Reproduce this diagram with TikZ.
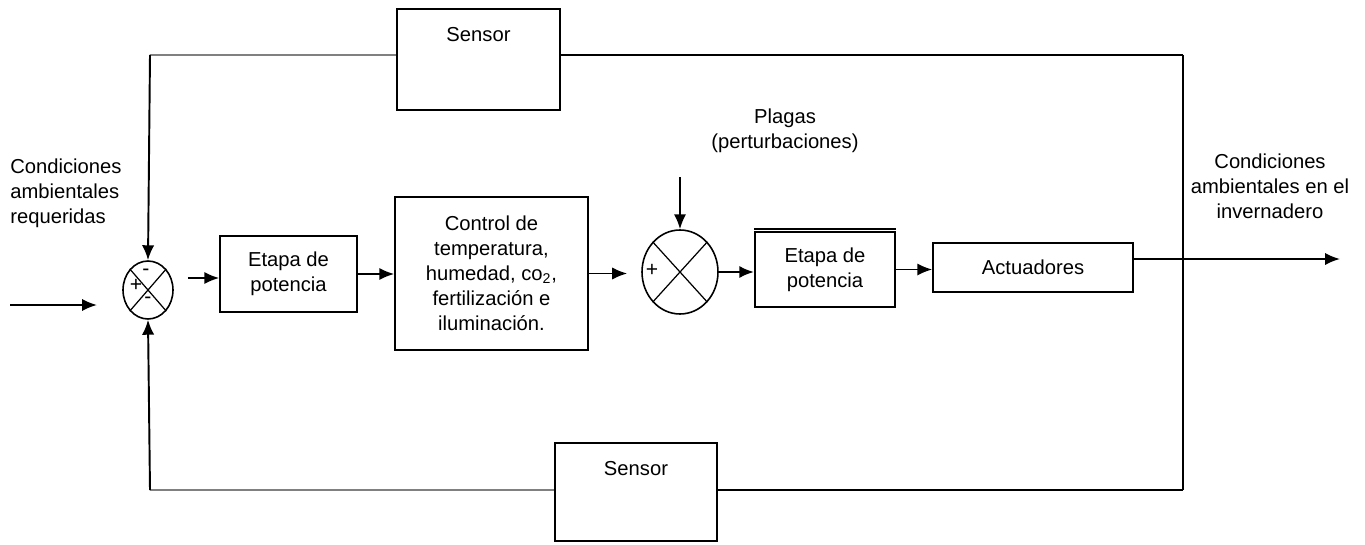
\documentclass[tikz,border=0pt]{standalone}
\usepackage{fontspec}
\setmainfont{Liberation Sans}
\usepackage{tikz}
\usetikzlibrary{positioning,shapes.geometric,arrows.meta,calc}

\tikzset{
  blk/.style={draw, line width=0.9pt, rectangle, inner sep=0pt},
  sumnode/.style={draw, line width=0.9pt, ellipse, inner sep=0pt},
  txt/.style={font=\fontsize{11.5}{14.2}\selectfont, align=center, inner sep=0pt},
  sgn/.style={font=\fontsize{12}{14}\selectfont, inner sep=0pt},
  wire/.style={line width=1.1pt},
  arr/.style={wire, -{Latex[length=8.5pt,width=7pt]}},
  greywire/.style={line width=1.1pt, draw=gray}
}

\begin{document}
\begin{tikzpicture}[x=0.02cm, y=-0.02cm]

\useasboundingbox (0,0) rectangle (1365,544);

% Blocks
\node[blk, minimum width=3.26cm, minimum height=2.02cm] (sensorTop) at (478.5, 59.5) {};
\node[txt, below=0.38cm of sensorTop.north] (sensorTopTxt) {Sensor};

\node[blk, minimum width=3.24cm, minimum height=1.96cm] (sensorBot) at (636, 492) {};
\node[txt, below=0.38cm of sensorBot.north] (sensorBotTxt) {Sensor};

\node[blk, txt, minimum width=2.74cm, minimum height=1.52cm] (etapa1) at (288.5, 274) {Etapa de\\potencia};
\node[blk, txt, minimum width=3.86cm, minimum height=3.06cm] (control) at (491.5, 273.5)
  {Control de\\temperatura,\\humedad, co\textsubscript{2},\\fertilización e\\iluminación.};
\node[blk, txt, minimum width=2.8cm, minimum height=1.5cm] (etapa2) at (825, 269.5) {Etapa de\\potencia};
\node[blk, txt, minimum width=4.0cm, minimum height=0.98cm] (actuadores) at (1033, 267.5) {Actuadores};

% double top edge
\draw[line width=0.7pt] ($(etapa2.north west)+(0,-2.2)$) -- ($(etapa2.north east)+(0,-2.2)$);

% Summing points
\node[sumnode, minimum width=1.0cm, minimum height=1.16cm] (sum1) at (148, 290) {};
\draw[line width=0.7pt] (sum1.north west) -- (sum1.south east);
\draw[line width=0.7pt] (sum1.north east) -- (sum1.south west);
\node[sgn] (s1top) at (146, 272) {-};
\node[sgn] (s1left) at (136, 285) {+};
\node[sgn] (s1bot) at (148, 300) {-};

\node[sumnode, minimum width=1.52cm, minimum height=1.68cm] (sum2) at (680, 272) {};
\draw[line width=0.7pt] (sum2.north west) -- (sum2.south east);
\draw[line width=0.7pt] (sum2.north east) -- (sum2.south west);
\node[sgn] (s2left) at (652, 270) {+};

% Texts
\node[txt, align=left, anchor=west] (inTxt) at (10, 193) {Condiciones\\ambientales\\requeridas};
\node[txt] (plagas) at (785, 131) {Plagas\\(perturbaciones)};
\node[txt] (outTxt) at (1270, 186) {Condiciones\\ambientales en el\\invernadero};

% Coordinates
\coordinate (inStart) at (10, 305);
\coordinate (inEnd) at (97, 305);
\coordinate (plIn) at (680, 177);
\coordinate (jR) at (1183, 259);
\coordinate (jT) at (1183, 55);
\coordinate (jB) at (1183, 490);
\coordinate (out) at (1340, 259);
\coordinate (fbTL) at (150, 55);
\coordinate (fbBL) at (150, 490);

% Forward path
\draw[arr] (inStart) -- (inEnd);
\draw[arr] ($(sum1.east |- etapa1.west)+(14,4)$) -- ($(etapa1.west)+(0,4)$);
\draw[arr] (etapa1.east) -- (etapa1.east -| control.west);
\draw[arr, shorten >=8] (control.east) -- (control.east -| sum2.west);
\draw[arr] (plIn) -- (sum2.north);
\draw[arr, line width=1.5pt] (sum2.east) -- (sum2.east -| etapa2.west);
\draw[arr] (etapa2.east) -- (etapa2.east -| actuadores.west);
\draw[arr] (actuadores.east |- out) -- (out);

% Feedback paths
\draw[wire] (jT) -- (jB);
\draw[wire] (jT) -- (jT -| sensorTop.east);
\draw[greywire] (sensorTop.west |- jT) -- (fbTL);
\draw[arr] (fbTL) -- (sum1.north);
\draw[wire] (jB) -- (jB -| sensorBot.east);
\draw[greywire] (sensorBot.west |- jB) -- (fbBL);
\draw[arr] (fbBL) -- (sum1.south);

\end{tikzpicture}
\end{document}
